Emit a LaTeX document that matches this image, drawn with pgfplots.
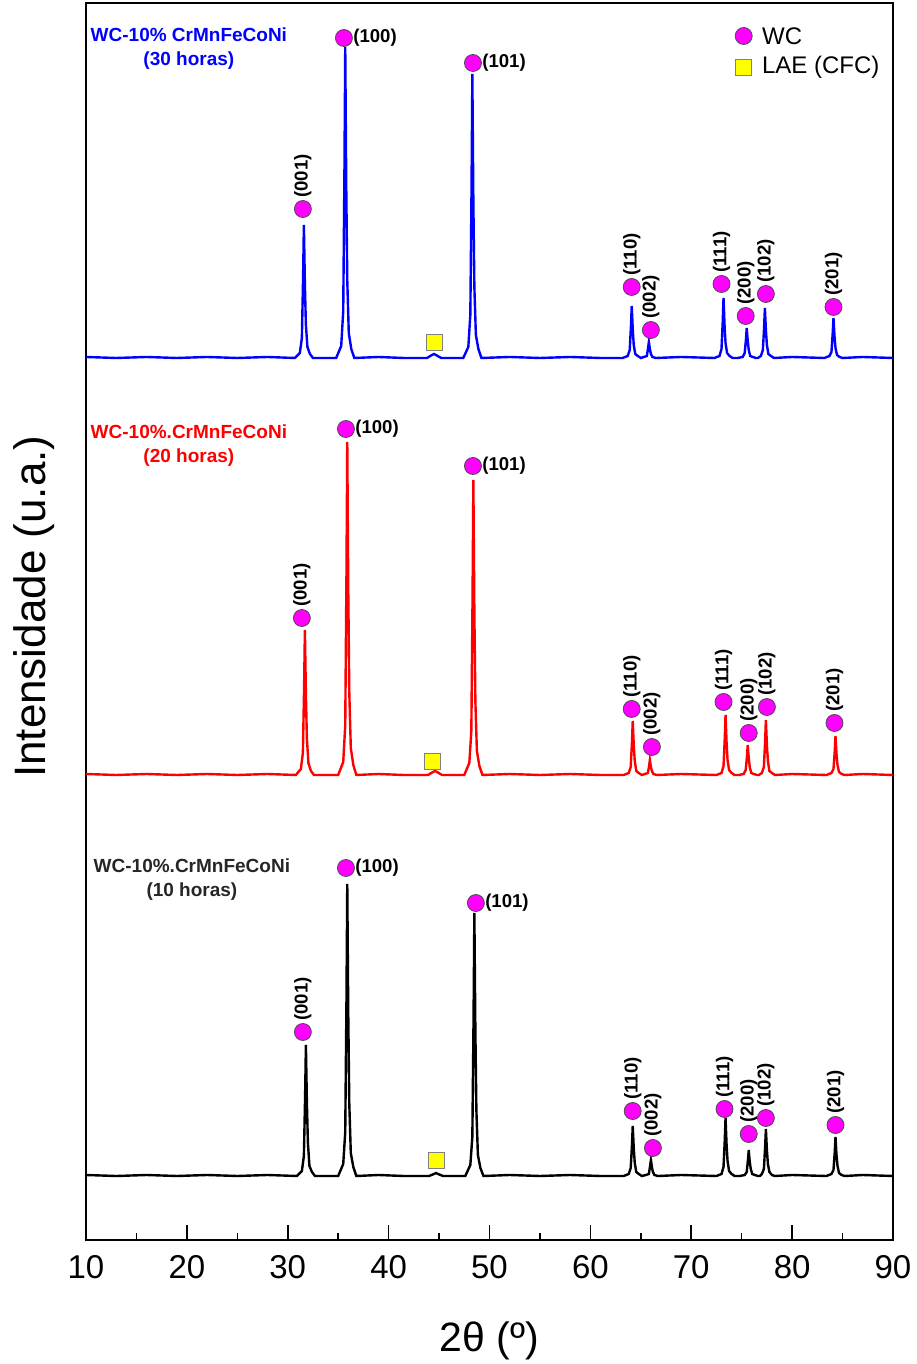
\documentclass[border=0pt]{standalone}
\usepackage{fontspec}
\setmainfont{Liberation Sans}
\usepackage{pgfplots}
\pgfplotsset{compat=1.18}
\definecolor{wcmag}{RGB}{255,0,255}
\definecolor{laeyel}{RGB}{255,255,0}
\definecolor{xblue}{RGB}{0,0,255}
\definecolor{xred}{RGB}{255,0,0}
\definecolor{xblack}{RGB}{0,0,0}
\tikzset{
  lbl/.style={font=\fontsize{9.3}{11}\selectfont\bfseries, inner sep=0pt},
  vlbl/.style={lbl, rotate=90, anchor=west, xshift=5.5pt},
  hlbl/.style={lbl, anchor=west, xshift=4.5pt},
}
\begin{document}
\begin{tikzpicture}
\begin{axis}[
  scale only axis, width=403.5pt, height=618.5pt,
  xmin=10, xmax=90, ymin=0, ymax=1237,
  xtick={10,20,...,90}, minor xtick={15,25,...,85},
  ytick=\empty,
  tick pos=left, tick align=inside,
  major tick length=7.5pt, minor tick length=3.5pt,
  every tick/.style={black, line width=0.8pt},
  axis line style={line width=1pt},
  /pgf/number format/assume math mode=true,
  xticklabel style={font=\fontsize{16.5}{18}\selectfont, yshift=-4pt},
  xlabel={2θ (º)},
  xlabel style={font=\fontsize{20.5}{22}\selectfont, at={(axis description cs:0.5,-0.0905)}, anchor=base},
  ylabel={Intensidade (u.a.)},
  ylabel style={font=\fontsize{22}{24}\selectfont, at={(axis description cs:-0.05,0.512)}, anchor=base, rotate=0},
  clip=false,
]
% ---------- blue: 30 horas ----------
\addplot[xblue, line width=1.2pt] coordinates {
(10,883)(13,882)(16,883)(19,882)(22,883)(25,882)(28,883)
(30.7,882)(31.2,887)(31.4,902)(31.52,962)(31.6,1015)(31.7,955)(31.8,915)(31.95,893)(32.2,886)(32.5,882)
(34.8,882)(35.3,894)(35.5,929)(35.62,1069)(35.7,1193)(35.8,1053)(35.9,960)(36.05,907)(36.3,891)(36.6,882)
(39,883)(41.5,882)
(43.8,882)(44.3,885)(44.5,886)(44.7,885)(45.2,882)
(47.4,882)(47.9,893)(48.1,925)(48.22,1052)(48.3,1166)(48.4,1038)(48.5,953)(48.65,905)(48.9,891)(49.2,882)
(52,883)(55,882)(58,883)(61,882)
(63.2,882)(63.7,884)(63.9,890)(64.02,913)(64.1,934)(64.2,911)(64.3,895)(64.45,886)(64.7,884)(65.0,882)
(65.3,883)(65.6,884)(65.72,892)(65.8,898)(65.9,891)(66.0,886)(66.15,883)(66.5,882)
(69,883)
(72.3,882)(72.8,884)(73.0,891)(73.12,918)(73.2,942)(73.3,915)(73.4,897)(73.55,887)(73.8,884)(74.1,882)
(74.6,882)(75.1,883)(75.3,887)(75.42,900)(75.5,912)(75.6,899)(75.7,890)(75.85,884)(76.1,883)(76.4,882)
(76.6,882)(76.9,884)(77.1,890)(77.22,912)(77.3,932)(77.4,910)(77.5,895)(77.65,886)(77.9,884)(78.2,882)
(80,883)
(83.2,882)(83.7,884)(83.9,888)(84.02,906)(84.1,922)(84.2,904)(84.3,892)(84.45,885)(84.7,883)(85.0,882)
(87,883)(90,882)
};
% ---------- red: 20 horas ----------
\addplot[xred, line width=1.2pt] coordinates {
(10,466)(13,465)(16,466)(19,465)(22,466)(25,465)(28,466)
(30.8,465)(31.3,471)(31.5,487)(31.62,552)(31.7,610)(31.8,545)(31.9,501)(32.05,477)(32.3,469)(32.6,465)
(35.0,465)(35.5,478)(35.7,515)(35.82,665)(35.9,798)(36.0,648)(36.1,548)(36.25,492)(36.5,475)(36.8,465)
(39,466)(41.5,465)
(43.9,465)(44.4,468)(44.6,469)(44.8,468)(45.3,465)
(47.5,465)(48.0,477)(48.2,509)(48.32,642)(48.4,760)(48.5,627)(48.6,539)(48.75,489)(49.0,474)(49.3,465)
(52,466)(55,465)(58,466)(61,465)
(63.3,465)(63.8,467)(64.0,473)(64.12,497)(64.2,519)(64.3,495)(64.4,479)(64.55,469)(64.8,467)(65.1,465)
(65.4,466)(65.7,467)(65.82,474)(65.9,480)(66.0,473)(66.1,469)(66.25,466)(66.6,465)
(69,466)
(72.5,465)(73.0,467)(73.2,474)(73.32,501)(73.4,525)(73.5,498)(73.6,480)(73.75,470)(74.0,467)(74.3,465)
(74.7,465)(75.2,466)(75.4,470)(75.52,483)(75.6,495)(75.7,482)(75.8,473)(75.95,467)(76.2,466)(76.5,465)
(76.7,465)(77.0,467)(77.2,473)(77.32,498)(77.4,520)(77.5,495)(77.6,479)(77.75,469)(78.0,467)(78.3,465)
(80,466)
(83.4,465)(83.9,467)(84.1,471)(84.22,488)(84.3,504)(84.4,486)(84.5,475)(84.65,468)(84.9,466)(85.2,465)
(87,466)(90,465)
};
% ---------- black: 10 horas ----------
\addplot[xblack, line width=1.2pt] coordinates {
(10,65)(13,64)(16,65)(19,64)(22,65)(25,64)(28,65)
(30.9,64)(31.4,69)(31.6,84)(31.72,143)(31.8,195)(31.9,136)(32.0,97)(32.15,74)(32.4,68)(32.7,64)
(35.0,64)(35.5,76)(35.7,108)(35.82,239)(35.9,356)(36.0,225)(36.1,137)(36.25,87)(36.5,73)(36.8,64)
(39,65)(41.5,64)
(44.0,64)(44.5,66)(44.7,67)(44.9,66)(45.4,64)
(47.6,64)(48.1,75)(48.3,103)(48.42,222)(48.5,327)(48.6,209)(48.7,130)(48.85,85)(49.1,72)(49.4,64)
(52,65)(55,64)(58,65)(61,64)
(63.3,64)(63.8,66)(64.0,72)(64.12,94)(64.2,114)(64.3,92)(64.4,77)(64.55,68)(64.8,66)(65.1,64)
(65.5,65)(65.8,66)(65.92,74)(66.0,80)(66.1,73)(66.2,68)(66.35,65)(66.7,64)
(69,65)
(72.5,64)(73.0,66)(73.2,73)(73.32,99)(73.4,122)(73.5,96)(73.6,79)(73.75,69)(74.0,66)(74.3,64)
(74.8,64)(75.3,65)(75.5,68)(75.62,80)(75.7,90)(75.8,78)(75.9,71)(76.05,66)(76.3,65)(76.6,64)
(76.8,64)(77.0,66)(77.2,71)(77.32,92)(77.4,111)(77.5,90)(77.6,76)(77.75,68)(78.0,65)(78.3,64)
(80,65)
(83.4,64)(83.9,66)(84.1,70)(84.22,87)(84.3,103)(84.4,85)(84.5,74)(84.65,67)(84.9,65)(85.2,64)
(87,65)(90,64)
};
% ---------- WC markers ----------
\addplot[only marks, mark=*, mark size=4.25pt, mark options={fill=wcmag, draw=black!70, line width=0.4pt}] coordinates {
(31.5,1031)(35.57,1202)(48.36,1177)(64.1,953)(66.0,910)(73.0,956)(75.4,924)(77.4,946)(84.1,933)
(31.4,622)(35.77,811)(48.36,774)(64.1,531)(66.1,493)(73.2,538)(75.7,507)(77.5,533)(84.2,517)
(31.5,208)(35.77,372)(48.65,337)(64.2,129)(66.2,92)(73.3,131)(75.7,106)(77.4,122)(84.3,115)
(75.2,1204)
};
% ---------- LAE markers ----------
\addplot[only marks, mark=square*, mark size=4pt, mark options={fill=laeyel, draw=black!50, line width=0.4pt}] coordinates {
(44.5,898)(44.3,479)(44.7,80)(75.2,1173)
};
% legend text
\node[anchor=west, inner sep=0pt, font=\fontsize{12}{14}\selectfont] at (axis cs:75.2,1204) [xshift=9pt] {WC};
\node[anchor=west, inner sep=0pt, font=\fontsize{12}{14}\selectfont] at (axis cs:75.2,1173) [xshift=9pt] {LAE (CFC)};
% sample labels
\node[align=center, font=\fontsize{9.5}{12}\selectfont\bfseries, text=xblue] at (axis cs:20.2,1191) {WC-10\% CrMnFeCoNi\\(30 horas)};
\node[align=center, font=\fontsize{9.5}{12}\selectfont\bfseries, text=xred] at (axis cs:20.2,794) {WC-10\%.CrMnFeCoNi\\(20 horas)};
\node[align=center, font=\fontsize{9.5}{12}\selectfont\bfseries, text=black!85] at (axis cs:20.5,360) {WC-10\%.CrMnFeCoNi\\(10 horas)};
% peak labels blue
\node[vlbl] at (axis cs:31.5,1031) {(001)};
\node[hlbl] at (axis cs:35.57,1202) {(100)};
\node[hlbl] at (axis cs:48.36,1177) {(101)};
\node[vlbl] at (axis cs:64.1,953) {(110)};
\node[vlbl] at (axis cs:66.0,910) {(002)};
\node[vlbl] at (axis cs:73.0,956) {(111)};
\node[vlbl] at (axis cs:75.4,924) {(200)};
\node[vlbl] at (axis cs:77.4,946) {(102)};
\node[vlbl] at (axis cs:84.1,933) {(201)};
% peak labels red
\node[vlbl] at (axis cs:31.4,622) {(001)};
\node[hlbl] at (axis cs:35.77,811) {(100)};
\node[hlbl] at (axis cs:48.36,774) {(101)};
\node[vlbl] at (axis cs:64.1,531) {(110)};
\node[vlbl] at (axis cs:66.1,493) {(002)};
\node[vlbl] at (axis cs:73.2,538) {(111)};
\node[vlbl] at (axis cs:75.7,507) {(200)};
\node[vlbl] at (axis cs:77.5,533) {(102)};
\node[vlbl] at (axis cs:84.2,517) {(201)};
% peak labels black
\node[vlbl] at (axis cs:31.5,208) {(001)};
\node[hlbl] at (axis cs:35.77,372) {(100)};
\node[hlbl] at (axis cs:48.65,337) {(101)};
\node[vlbl] at (axis cs:64.2,129) {(110)};
\node[vlbl] at (axis cs:66.2,92) {(002)};
\node[vlbl] at (axis cs:73.3,131) {(111)};
\node[vlbl] at (axis cs:75.7,106) {(200)};
\node[vlbl] at (axis cs:77.4,122) {(102)};
\node[vlbl] at (axis cs:84.3,115) {(201)};
\end{axis}
\pgfresetboundingbox
\useasboundingbox (-43pt,-62pt) rectangle (415pt,620pt);
\end{tikzpicture}
\end{document}
